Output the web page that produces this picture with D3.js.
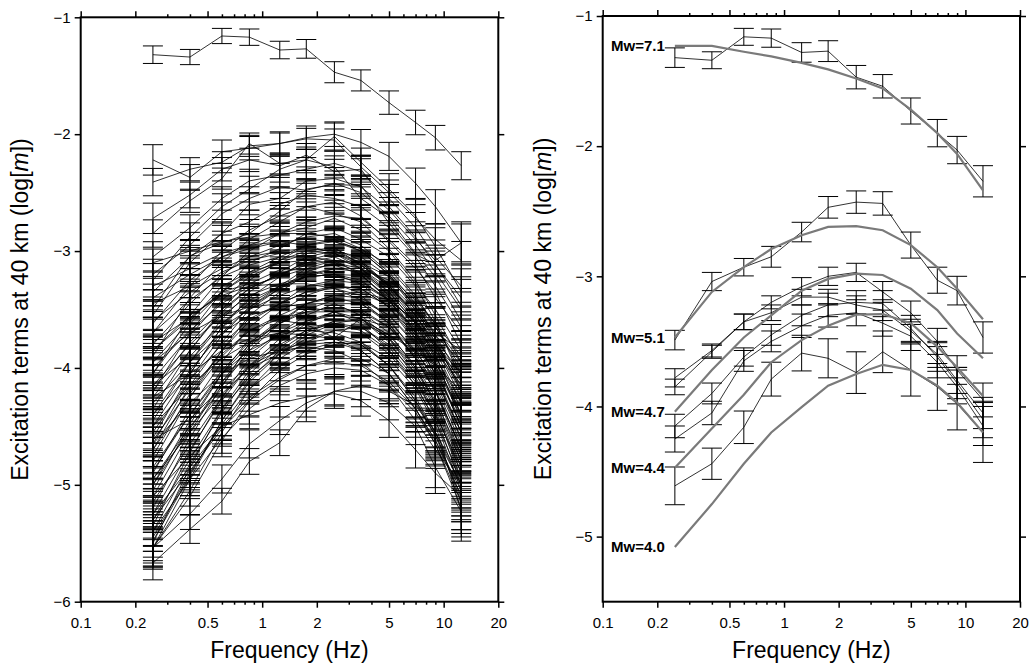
<!DOCTYPE html>
<html>
<head>
<meta charset="utf-8">
<script src="https://cdn.jsdelivr.net/npm/d3@7"></script>
<style>
body { margin: 0; background: #fff; }
svg { display: block; font-family: "Liberation Sans", Arial, Helvetica, sans-serif; }
</style>
</head>
<body>
<script>
/* global d3 */

// Frequencies of the excitation terms (Hz)
const freqs = [0.25, 0.4, 0.6, 0.85, 1.25, 1.75, 2.5, 3.5, 5, 7, 9, 12.5];

// Axis ticks
const xMajor = [0.1, 0.2, 0.5, 1, 2, 5, 10, 20];
const xMinor = [0.3, 0.4, 0.6, 0.7, 0.8, 0.9, 3, 4, 6, 7, 8, 9];
const leftYTicks = [-1, -2, -3, -4, -5, -6];
const rightYTicks = [-1, -2, -3, -4, -5];

// Events shown in both panels (value, error)
const ev71 = [-1.32, -1.34, -1.16, -1.17, -1.28, -1.27, -1.47, -1.54, -1.73, -1.90, -2.03, -2.27];
const er71 = [0.075, 0.065, 0.065, 0.07, 0.075, 0.08, 0.09, 0.09, 0.10, 0.105, 0.105, 0.12];
const ev51 = [-3.49, -3.04, -2.93, -2.85, -2.66, -2.47, -2.43, -2.44, -2.76, -3.03, -3.11, -3.47];
const er51 = [0.075, 0.07, 0.067, 0.08, 0.075, 0.083, 0.086, 0.09, 0.10, 0.10, 0.11, 0.12];
const evB = [-3.78, -3.57, -3.35, -3.20, -3.08, -3.00, -2.97, -3.12, -3.28, -3.50, -3.72, -3.95];
const erB = [0.07, 0.05, 0.06, 0.05, 0.07, 0.07, 0.07, 0.08, 0.09, 0.10, 0.11, 0.13];
const evC = [-3.85, -3.58, -3.35, -3.28, -3.16, -3.16, -3.22, -3.26, -3.42, -3.60, -3.80, -4.05];
const erC = [0.06, 0.05, 0.06, 0.06, 0.06, 0.06, 0.07, 0.08, 0.09, 0.10, 0.10, 0.12];
const evD = [-4.15, -3.90, -3.62, -3.45, -3.30, -3.22, -3.20, -3.21, -3.40, -3.62, -3.82, -4.10];
const erD = [0.09, 0.08, 0.07, 0.08, 0.08, 0.09, 0.09, 0.10, 0.10, 0.11, 0.12, 0.14];
const evE = [-4.25, -4.05, -3.65, -3.50, -3.38, -3.30, -3.28, -3.36, -3.46, -3.66, -3.85, -4.15];
const erE = [0.10, 0.09, 0.08, 0.08, 0.09, 0.09, 0.10, 0.10, 0.11, 0.12, 0.13, 0.15];
const evF = [-4.61, -4.44, -4.16, -3.79, -3.59, -3.63, -3.74, -3.58, -3.72, -3.85, -3.98, -4.20];
const erF = [0.145, 0.12, 0.125, 0.13, 0.137, 0.15, 0.16, 0.16, 0.20, 0.18, 0.20, 0.23];

// Model curves (right panel)
const modelNames = ['Mw=7.1', 'Mw=5.1', 'Mw=4.7', 'Mw=4.4', 'Mw=4.0'];
const model71 = [-1.23, -1.23, -1.275, -1.31, -1.36, -1.41, -1.48, -1.556, -1.72, -1.90, -2.06, -2.34];
const model51 = [-3.47, -3.12, -2.93, -2.79, -2.685, -2.62, -2.615, -2.646, -2.76, -2.93, -3.095, -3.33];
const model47 = [-4.04, -3.72, -3.47, -3.30, -3.11, -3.02, -2.98, -2.99, -3.095, -3.26, -3.44, -3.63];
const model44 = [-4.47, -4.17, -3.91, -3.66, -3.49, -3.38, -3.295, -3.29, -3.36, -3.54, -3.70, -3.92];
const model40 = [-5.08, -4.75, -4.44, -4.20, -4.005, -3.84, -3.75, -3.68, -3.72, -3.84, -3.97, -4.20];

// Remaining events (left panel only), each with one standard error
const otherValues = [
  [-2.22, -2.37, -2.15, -2.12, -2.08, -2.03, -2.00, -2.07, -2.19, -2.42, -2.62, -2.93],
  [-2.41, -2.30, -2.24, -2.10, -2.08, -2.04, -2.05, -2.28, -2.50, -2.72, -2.90, -3.08],
  [-2.72, -2.52, -2.30, -2.22, -2.27, -2.18, -2.32, -2.30, -2.62, -2.88, -3.12, -3.40],
  [-2.85, -2.57, -2.38, -2.08, -2.25, -2.22, -2.28, -2.55, -2.72, -3.02, -3.22, -3.60],
  [-3.25, -2.88, -2.62, -2.47, -2.30, -2.22, -2.02, -2.24, -2.47, -2.70, -2.96, -3.35],
  [-3.05, -2.80, -2.55, -2.40, -2.35, -2.30, -2.25, -2.32, -2.55, -2.80, -3.05, -3.30],
  [-3.20, -2.95, -2.68, -2.55, -2.45, -2.48, -2.42, -2.50, -2.70, -2.95, -3.18, -3.50],
  [-3.35, -3.05, -2.85, -2.60, -2.55, -2.40, -2.38, -2.45, -2.65, -2.90, -3.08, -2.93],
  [-3.55, -3.10, -2.85, -2.75, -2.60, -2.52, -2.55, -2.62, -2.80, -3.05, -3.30, -3.65],
  [-3.70, -3.30, -3.00, -2.82, -2.70, -2.62, -2.58, -2.70, -2.92, -3.15, -3.35, -3.80],
  [-3.90, -3.40, -3.10, -2.90, -2.75, -2.62, -2.68, -2.75, -2.98, -3.25, -3.55, -3.95],
  [-3.62, -3.25, -3.05, -2.95, -2.85, -2.80, -2.72, -2.82, -3.00, -3.28, -3.50, -3.85],
  [-4.05, -3.55, -3.22, -3.00, -2.85, -2.75, -2.70, -2.72, -2.90, -3.12, -3.40, -3.70],
  [-3.80, -3.45, -3.20, -3.05, -2.95, -2.88, -2.85, -2.95, -3.15, -3.40, -3.62, -4.05],
  [-4.20, -3.70, -3.35, -3.10, -2.98, -2.85, -2.80, -2.90, -3.05, -3.30, -3.60, -4.10],
  [-3.95, -3.60, -3.30, -3.18, -3.05, -2.95, -2.90, -3.00, -3.20, -3.48, -3.75, -4.20],
  [-4.35, -3.85, -3.50, -3.25, -3.08, -2.95, -2.92, -2.98, -3.12, -3.38, -3.65, -4.00],
  [-4.10, -3.72, -3.42, -3.22, -3.10, -3.02, -2.98, -3.08, -3.30, -3.58, -3.85, -4.30],
  [-4.45, -3.95, -3.58, -3.35, -3.18, -3.05, -3.00, -3.05, -3.22, -3.50, -3.78, -4.18],
  [-4.25, -3.85, -3.52, -3.32, -3.20, -3.10, -3.05, -3.15, -3.35, -3.62, -3.90, -4.35],
  [-4.60, -4.05, -3.65, -3.40, -3.22, -3.08, -3.02, -3.10, -3.28, -3.55, -3.82, -4.25],
  [-3.45, -3.30, -3.15, -3.05, -3.00, -2.98, -3.00, -3.10, -3.30, -3.55, -3.80, -4.15],
  [-4.50, -4.02, -3.70, -3.48, -3.30, -3.15, -3.08, -3.12, -3.30, -3.52, -3.75, -4.05],
  [-3.30, -3.15, -3.02, -2.95, -2.92, -2.95, -3.02, -3.15, -3.38, -3.70, -3.95, -4.40],
  [-4.70, -4.15, -3.78, -3.50, -3.32, -3.18, -3.10, -3.15, -3.32, -3.60, -3.88, -4.40],
  [-4.00, -3.68, -3.45, -3.30, -3.22, -3.15, -3.12, -3.20, -3.42, -3.72, -4.00, -4.50],
  [-4.80, -4.25, -3.85, -3.55, -3.35, -3.20, -3.15, -3.18, -3.35, -3.62, -3.90, -4.30],
  [-4.15, -3.80, -3.55, -3.38, -3.28, -3.22, -3.20, -3.28, -3.48, -3.78, -4.05, -4.55],
  [-4.90, -4.35, -3.95, -3.65, -3.45, -3.30, -3.25, -3.28, -3.42, -3.68, -3.95, -4.40],
  [-4.55, -4.10, -3.80, -3.58, -3.45, -3.35, -3.32, -3.38, -3.58, -3.88, -4.15, -4.65],
  [-5.05, -4.48, -4.05, -3.75, -3.52, -3.38, -3.30, -3.32, -3.48, -3.75, -4.02, -4.50],
  [-4.70, -4.25, -3.90, -3.68, -3.55, -3.45, -3.40, -3.45, -3.62, -3.92, -4.20, -4.75],
  [-5.20, -4.60, -4.15, -3.85, -3.62, -3.45, -3.38, -3.40, -3.55, -3.80, -4.08, -4.55],
  [-4.85, -4.40, -4.02, -3.78, -3.62, -3.52, -3.48, -3.52, -3.70, -4.00, -4.30, -4.85],
  [-5.35, -4.72, -4.25, -3.92, -3.70, -3.55, -3.45, -3.45, -3.60, -3.85, -4.12, -4.60],
  [-5.00, -4.52, -4.12, -3.88, -3.70, -3.60, -3.55, -3.58, -3.75, -4.05, -4.35, -4.95],
  [-5.50, -4.85, -4.35, -4.02, -3.78, -3.62, -3.52, -3.50, -3.65, -3.90, -4.18, -4.70],
  [-5.15, -4.65, -4.25, -3.98, -3.80, -3.68, -3.62, -3.65, -3.82, -4.10, -4.40, -5.00],
  [-5.54, -4.95, -4.45, -4.10, -3.85, -3.70, -3.60, -3.58, -3.72, -3.98, -4.25, -4.80],
  [-5.30, -4.78, -4.35, -4.08, -3.88, -3.75, -3.68, -3.70, -3.88, -4.15, -4.45, -5.05],
  [-5.54, -5.05, -4.55, -4.18, -3.92, -3.78, -3.68, -3.65, -3.80, -4.05, -4.32, -4.90],
  [-5.45, -4.90, -4.48, -4.18, -3.98, -3.85, -3.78, -3.80, -3.98, -4.25, -4.55, -5.15],
  [-5.54, -5.10, -4.62, -4.28, -4.02, -3.88, -3.80, -3.78, -3.92, -4.18, -4.48, -5.23],
  [-5.67, -5.38, -5.14, -4.80, -4.64, -4.35, -4.20, -4.15, -4.20, -4.32, -4.55, -4.95],
  [-5.54, -5.25, -4.95, -4.65, -4.45, -4.30, -4.20, -4.20, -4.30, -4.50, -4.85, -5.23],
  [-5.10, -4.75, -4.50, -4.40, -4.30, -4.25, -4.22, -4.28, -4.45, -4.70, -4.90, -5.10],
  [-4.40, -4.05, -3.85, -3.75, -3.70, -3.72, -3.75, -3.85, -4.05, -4.35, -4.62, -5.10],
  [-4.30, -3.95, -3.70, -3.55, -3.48, -3.45, -3.45, -3.55, -3.75, -4.02, -4.30, -4.80],
  [-3.95, -3.70, -3.55, -3.48, -3.45, -3.48, -3.52, -3.62, -3.85, -4.15, -4.45, -4.95],
  [-4.95, -4.55, -4.22, -4.00, -3.88, -3.80, -3.78, -3.85, -4.05, -4.35, -4.65, -5.20],
  [-5.40, -4.95, -4.60, -4.35, -4.15, -4.05, -4.00, -4.02, -4.15, -4.38, -4.65, -5.15],
  [-5.25, -4.85, -4.50, -4.25, -4.08, -3.98, -3.95, -3.98, -4.12, -4.35, -4.62, -5.05],
  [-4.65, -4.30, -4.05, -3.92, -3.85, -3.82, -3.85, -3.95, -4.15, -4.45, -4.70, -5.00],
  [-3.10, -3.00, -2.92, -2.88, -2.85, -2.85, -2.88, -2.98, -3.18, -3.45, -3.72, -4.10],
  [-3.60, -3.35, -3.18, -3.08, -3.02, -3.00, -3.02, -3.12, -3.30, -3.55, -3.78, -4.12],
  [-4.05, -3.62, -3.35, -3.18, -3.10, -3.08, -3.10, -3.18, -3.38, -3.65, -3.92, -4.45],
  [-4.40, -3.95, -3.62, -3.42, -3.30, -3.22, -3.20, -3.25, -3.42, -3.70, -3.98, -4.50],
  [-4.75, -4.22, -3.85, -3.60, -3.45, -3.35, -3.30, -3.32, -3.48, -3.72, -3.98, -4.42],
  [-3.85, -3.55, -3.38, -3.30, -3.28, -3.28, -3.32, -3.42, -3.62, -3.92, -4.20, -4.70],
  [-4.62, -4.18, -3.88, -3.68, -3.58, -3.52, -3.52, -3.58, -3.78, -4.08, -4.38, -4.90],
  [-5.00, -4.45, -4.05, -3.80, -3.62, -3.50, -3.42, -3.42, -3.55, -3.78, -4.05, -4.45],
  [-5.25, -4.70, -4.28, -3.98, -3.75, -3.60, -3.52, -3.52, -3.65, -3.92, -4.20, -4.68],
  [-4.50, -4.15, -3.92, -3.78, -3.70, -3.68, -3.70, -3.78, -3.98, -4.28, -4.55, -5.00],
  [-5.40, -4.82, -4.38, -4.05, -3.82, -3.68, -3.60, -3.60, -3.74, -4.00, -4.28, -4.75],
  [-4.88, -4.40, -4.05, -3.85, -3.72, -3.65, -3.62, -3.68, -3.85, -4.12, -4.40, -4.85],
  [-3.40, -3.20, -3.05, -2.98, -2.92, -2.90, -2.92, -3.00, -3.20, -3.48, -3.70, -3.85],
  [-4.20, -3.78, -3.50, -3.32, -3.20, -3.12, -3.08, -3.10, -3.22, -3.42, -3.62, -3.90],
  [-4.65, -4.10, -3.72, -3.48, -3.32, -3.22, -3.15, -3.15, -3.25, -3.45, -3.65, -3.95],
  [-5.10, -4.55, -4.12, -3.82, -3.60, -3.45, -3.38, -3.35, -3.42, -3.60, -3.82, -4.20],
  [-5.48, -4.92, -4.45, -4.12, -3.88, -3.72, -3.62, -3.58, -3.65, -3.85, -4.10, -4.55],
  [-3.70, -3.42, -3.22, -3.12, -3.05, -3.05, -3.08, -3.20, -3.42, -3.75, -4.05, -4.62],
  [-4.95, -4.50, -4.18, -3.98, -3.85, -3.78, -3.75, -3.80, -3.98, -4.28, -4.58, -5.10],
  [-5.30, -4.88, -4.52, -4.28, -4.10, -3.98, -3.92, -3.92, -4.05, -4.30, -4.58, -5.00]
];
const otherSigma = [
  0.10, 0.09, 0.10, 0.09, 0.11, 0.10, 0.10, 0.09,
  0.10, 0.09, 0.11, 0.09, 0.10, 0.10, 0.11, 0.09, 0.12, 0.10,
  0.11, 0.10, 0.12, 0.09, 0.11, 0.10, 0.12, 0.10, 0.12, 0.10,
  0.12, 0.11, 0.12, 0.11, 0.13, 0.11, 0.13, 0.12, 0.13, 0.12,
  0.13, 0.12, 0.12, 0.13, 0.14, 0.11, 0.12, 0.12, 0.11, 0.10,
  0.10, 0.12, 0.13, 0.12, 0.11,
  0.09, 0.10, 0.11, 0.11, 0.12, 0.10, 0.11, 0.12, 0.12, 0.11,
  0.13, 0.12, 0.09, 0.10, 0.11, 0.12, 0.13, 0.10, 0.12, 0.13
];
// Relative size of the error bars across the band (wider at the edges)
const relErr = [1.3, 1.1, 1.0, 1.0, 1.0, 1.0, 1.05, 1.1, 1.2, 1.3, 1.45, 1.8];

// SVG setup
const width = 1030;
const height = 666;
const capHalf = 10;

const svg = d3.select('body')
  .append('svg')
  .attr('width', width)
  .attr('height', height);

function makePanel(left, right, top, bottom, yDomain) {
  const g = svg.append('g');
  const x = d3.scaleLog().domain([0.1, 20]).range([left, right]);
  const y = d3.scaleLinear().domain(yDomain).range([bottom, top]);
  return { g, x, y, left, right, top, bottom };
}

const leftPanel = makePanel(80.7, 498.3, 17.3, 601.7, [-6, -1]);
const rightPanel = makePanel(602.7, 1020, 16, 601.7, [-5.5, -1]);

function drawEvent(p, vals, errs) {
  const line = d3.line()
    .x((d, i) => p.x(freqs[i]))
    .y(d => p.y(d));
  p.g.append('path')
    .datum(vals)
    .attr('d', line)
    .attr('fill', 'none')
    .attr('stroke', '#000')
    .attr('stroke-width', 0.8);

  const pts = vals.map((v, i) => ({ f: freqs[i], v: v, e: errs[i] }));
  p.g.append('g')
    .selectAll('path')
    .data(pts)
    .join('path')
    .attr('d', d => {
      const cx = p.x(d.f);
      const yt = p.y(d.v + d.e);
      const yb = p.y(d.v - d.e);
      return `M${cx - capHalf},${yt}H${cx + capHalf}M${cx},${yt}V${yb}M${cx - capHalf},${yb}H${cx + capHalf}`;
    })
    .attr('fill', 'none')
    .attr('stroke', '#000')
    .attr('stroke-width', 1);
}

function drawModel(p, vals, name) {
  const line = d3.line()
    .x((d, i) => p.x(freqs[i]))
    .y(d => p.y(d));
  p.g.append('path')
    .datum(vals)
    .attr('d', line)
    .attr('fill', 'none')
    .attr('stroke', '#7a7a7a')
    .attr('stroke-width', 2.2);
  p.g.append('text')
    .attr('x', p.x(freqs[0]) - 10)
    .attr('y', p.y(vals[0]))
    .attr('dy', '0.35em')
    .attr('text-anchor', 'end')
    .attr('font-size', '15px')
    .attr('font-weight', 'bold')
    .text(name);
}

function drawFrame(p, yTicks, titleX) {
  const axes = p.g.append('g');

  axes.append('g')
    .attr('transform', `translate(0,${p.bottom})`)
    .call(d3.axisBottom(p.x).tickValues(xMajor).tickSize(6).tickPadding(10).tickFormat(d => d));
  axes.append('g')
    .attr('transform', `translate(0,${p.bottom})`)
    .call(d3.axisBottom(p.x).tickValues(xMinor).tickSize(3).tickFormat(''));
  axes.append('g')
    .attr('transform', `translate(0,${p.top})`)
    .call(d3.axisTop(p.x).tickValues(xMajor).tickSize(6).tickFormat(''));
  axes.append('g')
    .attr('transform', `translate(0,${p.top})`)
    .call(d3.axisTop(p.x).tickValues(xMinor).tickSize(3).tickFormat(''));
  axes.append('g')
    .attr('transform', `translate(${p.left},0)`)
    .call(d3.axisLeft(p.y).tickValues(yTicks).tickSize(6).tickPadding(4).tickFormat(d3.format('d')));
  axes.append('g')
    .attr('transform', `translate(${p.right},0)`)
    .call(d3.axisRight(p.y).tickValues(yTicks).tickSize(6).tickFormat(''));

  axes.selectAll('.domain').remove();
  axes.selectAll('.tick line').attr('stroke', '#000').attr('stroke-width', 1.5);
  axes.selectAll('.tick text')
    .attr('fill', '#000')
    .attr('font-size', '15px')
    .attr('font-family', '"Liberation Sans", Arial, Helvetica, sans-serif');

  p.g.append('rect')
    .attr('x', p.left)
    .attr('y', p.top)
    .attr('width', p.right - p.left)
    .attr('height', p.bottom - p.top)
    .attr('fill', 'none')
    .attr('stroke', '#000')
    .attr('stroke-width', 2);

  p.g.append('text')
    .attr('x', (p.left + p.right) / 2)
    .attr('y', 658)
    .attr('text-anchor', 'middle')
    .attr('font-size', '23px')
    .text('Frequency (Hz)');

  const title = p.g.append('text')
    .attr('transform', `translate(${titleX},${(p.top + p.bottom) / 2}) rotate(-90)`)
    .attr('text-anchor', 'middle')
    .attr('font-size', '23px');
  title.append('tspan').text('Excitation terms at 40 km (log[');
  title.append('tspan').attr('font-style', 'italic').text('m');
  title.append('tspan').text('])');
}

// Left panel: all events
otherValues.forEach((vals, k) => {
  drawEvent(leftPanel, vals, relErr.map(r => r * otherSigma[k]));
});
[[evF, erF], [evE, erE], [evD, erD], [evC, erC], [evB, erB], [ev51, er51], [ev71, er71]]
  .forEach(([v, e]) => drawEvent(leftPanel, v, e));
drawFrame(leftPanel, leftYTicks, 28);

// Right panel: selected events and model curves
[[ev71, er71], [ev51, er51], [evB, erB], [evC, erC], [evD, erD], [evE, erE], [evF, erF]]
  .forEach(([v, e]) => drawEvent(rightPanel, v, e));
[model71, model51, model47, model44, model40]
  .forEach((m, i) => drawModel(rightPanel, m, modelNames[i]));
drawFrame(rightPanel, rightYTicks, 551);
</script>
</body>
</html>
